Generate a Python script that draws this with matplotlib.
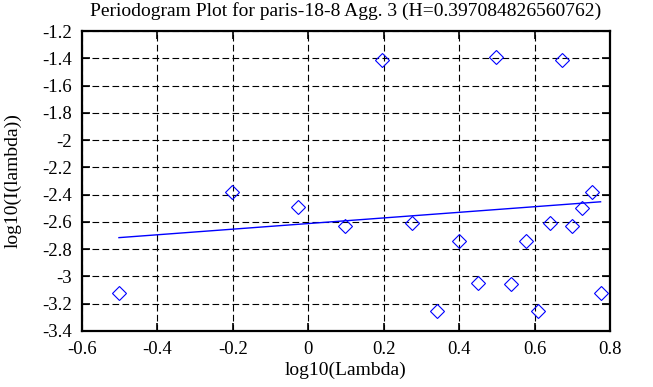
import matplotlib
matplotlib.use("Agg")
import matplotlib.pyplot as plt
import numpy as np
from matplotlib.ticker import FuncFormatter

title = "Periodogram Plot for paris-18-8 Agg. 3 (H=0.397084826560762)"
H = 0.397084826560762
log_lambda = [-0.502, -0.202, -0.026, 0.098, 0.196, 0.275, 0.342, 0.399, 0.451, 0.497,
              0.538, 0.576, 0.610, 0.642, 0.673, 0.700, 0.727, 0.751, 0.775]
log_I = [-3.12, -2.384, -2.493, -2.63, -1.41, -2.61, -3.25, -2.737, -3.05, -1.393,
         -3.055, -2.737, -3.25, -2.61, -1.413, -2.63, -2.50, -2.383, -3.123]
fit_intercept = -2.612
fit_slope = 1 - 2 * H
xticks = [-0.6, -0.4, -0.2, 0, 0.2, 0.4, 0.6, 0.8]
yticks = [-3.4, -3.2, -3.0, -2.8, -2.6, -2.4, -2.2, -2.0, -1.8, -1.6, -1.4, -1.2]

plt.rcParams['font.family'] = ['Liberation Serif', 'DejaVu Serif']
plt.rcParams['axes.unicode_minus'] = False

fig = plt.figure(figsize=(6.53, 3.87), dpi=100)
ax = fig.add_axes([82/653, 56/387, 528/653, 300/387])

x = np.array(log_lambda)
xf = np.array([x.min(), x.max()])
ax.plot(xf, fit_intercept + fit_slope * xf, color=(0, 0, 1), lw=1.0, zorder=3)
ax.plot(x, log_I, linestyle='none', marker='D', markersize=7, markerfacecolor='none',
        markeredgecolor=(0, 0, 1), markeredgewidth=0.8, zorder=4)

ax.set_xlim(-0.6, 0.8)
ax.set_ylim(-3.4, -1.2)
ax.set_xticks(xticks)
ax.set_yticks(yticks)
fmt = FuncFormatter(lambda v, p: "%g" % round(v, 4))
ax.xaxis.set_major_formatter(fmt)
ax.yaxis.set_major_formatter(fmt)
ax.grid(True, color='black', linestyle=(0, (6, 3)), linewidth=0.8)
ax.tick_params(direction='in', length=6, width=1.2, top=True, right=True, labelsize=13.5, pad=7)
for s in ax.spines.values():
    s.set_linewidth(1.6)
ax.set_title(title, fontsize=14, pad=11)
ax.set_xlabel("log10(Lambda)", fontsize=14)
ax.set_ylabel("log10(I(lambda))", fontsize=14)
ax.xaxis.set_label_coords(0.5, -0.103)
ax.yaxis.set_label_coords(-0.115, 0.5)

fig.savefig("out.png", dpi=100)
